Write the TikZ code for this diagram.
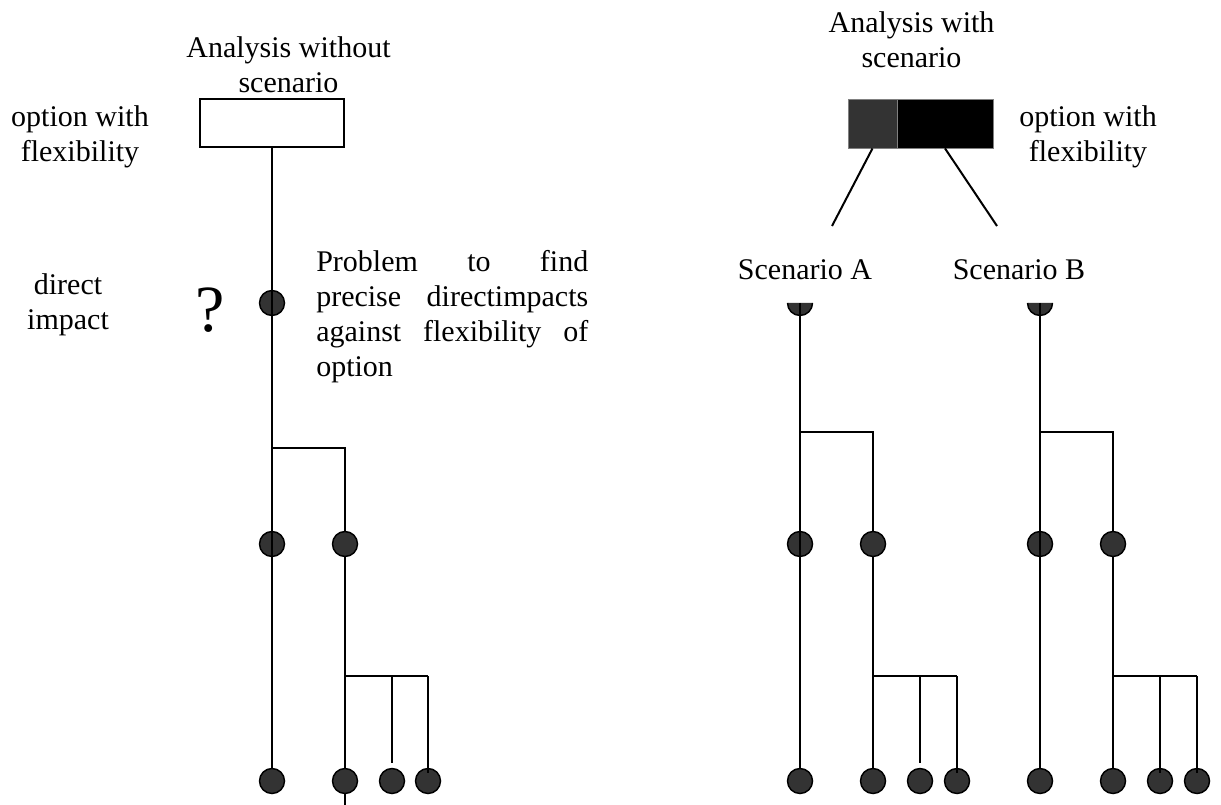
\documentclass[tikz,border=0pt]{standalone}
\usepackage{fontspec}
\setmainfont{Liberation Serif}
\definecolor{dotgray}{HTML}{333333}
\begin{document}
\begin{tikzpicture}[x=0.75pt,y=-0.75pt,
  txt/.style={inner sep=0pt,font=\fontsize{22.5}{26.25}\selectfont,align=center,anchor=base},
  wire/.style={line width=1.5pt},
  dot/.style={circle,draw,line width=1.1pt,fill=dotgray,inner sep=0pt,minimum size=18.75pt},
  halfdot/.style={draw,line width=1.1pt,fill=dotgray},
  optbox/.style={draw,line width=1.4pt,minimum width=108pt,minimum height=36pt,inner sep=0pt},
  partbox/.style={draw=gray,line width=0.6pt,minimum height=36.75pt,inner sep=0pt}]
\useasboundingbox (0,0) rectangle (1221,805);

% ---------- left: analysis without scenario ----------
\node[optbox] (boxL) at (272,123) {};
\node[txt] (tL) at (288.5,93) {Analysis without\\scenario};
\node[txt] (oL) at (80,162) {option with\\flexibility};
\node[txt] (di) at (68,330) {direct\\impact};
\node[txt,font=\fontsize{49.5}{50}\selectfont] (q) at (210,332) {?};
\node[txt,align=left,anchor=base west] (pb) at (316,377)
  {\makebox[204pt][s]{Problem to find}\\
   \makebox[204pt][s]{precise directimpacts}\\
   \makebox[204pt][s]{against flexibility of}\\
   option};

\coordinate (jL1) at (272,448);
\coordinate (jL1r) at (345,448);
\coordinate (jL2) at (345,676);
\coordinate (jL2a) at (392,676);
\coordinate (jL2b) at (428,676);
\coordinate (eL3) at (392,763);
\coordinate (eL4) at (428,773);
\coordinate (tail) at (345,805);

% ---------- right: analysis with scenario ----------
\node[partbox,fill=dotgray,minimum width=36.75pt] (pA) at (872.5,123.5) {};
\node[partbox,fill=black,minimum width=72pt] (pB) at (945,123.5) {};
\node[txt] (tR) at (911.5,68) {Analysis with\\scenario};
\node[txt] (oR) at (1088,162) {option with\\flexibility};
\node[txt] (sAl) at (805,280) {Scenario A};
\node[txt] (sBl) at (1019,280) {Scenario B};
\coordinate (lA) at (832,226);
\coordinate (lB) at (997,226);
\draw[wire] (pA.south) -- (lA);
\draw[wire] (pB.south) -- (lB);

\foreach \n/\x in {A/800,B/1040}{
  \coordinate (h\n) at (\x,303);
  \coordinate (j\n1) at (\x,432);
  \coordinate (j\n1r) at (\x+73,432);
  \coordinate (j\n2) at (\x+73,676);
  \coordinate (j\n2a) at (\x+120,676);
  \coordinate (j\n2b) at (\x+157,676);
  \coordinate (e\n4) at (\x+157,773);
}
\coordinate (eA3) at (920,763);
\coordinate (eB3) at (1160,773);

% ---------- connectors lying beneath the dots ----------
\draw[wire] (jL1) -- (jL1r) -- (jL2) -- (tail);
\draw[wire] (jL2) -- (jL2b);
\draw[wire] (jL2a) -- (eL3);
\draw[wire] (jL1) -- (272,781);
\foreach \n/\x in {A/800,B/1040}{
  \draw[wire] (j\n1) -- (j\n1r) -- (\x+73,781);
  \draw[wire] (j\n1) -- (\x,781);
  \draw[wire] (j\n2) -- (j\n2b);
}
\draw[wire] (jA2a) -- (eA3);

% ---------- dots ----------
\node[dot] (dL1) at (272,303) {};
\node[dot] (mL1) at (272,544) {};
\node[dot] (mL2) at (345,544) {};
\node[dot] (bL1) at (272,781) {};
\node[dot] (bL2) at (345,781) {};
\node[dot] (bL3) at (392,781) {};
\node[dot] (bL4) at (428,781) {};
\foreach \n/\x in {A/800,B/1040}{
  \path[halfdot] (h\n) ++(-12.5,0) arc[start angle=180,end angle=0,radius=12.5];
  \node[dot] (m\n1) at (\x,544) {};
  \node[dot] (m\n2) at (\x+73,544) {};
  \node[dot] (b\n1) at (\x,781) {};
  \node[dot] (b\n2) at (\x+73,781) {};
  \node[dot] (b\n3) at (\x+120,781) {};
  \node[dot] (b\n4) at (\x+157,781) {};
}

% ---------- connectors drawn over the dots ----------
\draw[wire] (boxL.south) -- (dL1.center) -- (mL1.center) -- (mL1.south);
\draw[wire] (jL2b) -- (eL4);
\draw[wire] (hA) -- (mA1.center) -- (mA1.south);
\draw[wire] (hB) -- (mB1.center) -- (mB1.south);
\draw[wire] (jA2b) -- (eA4);
\draw[wire] (jB2a) -- (eB3);
\draw[wire] (jB2b) -- (eB4);

\end{tikzpicture}
\end{document}
